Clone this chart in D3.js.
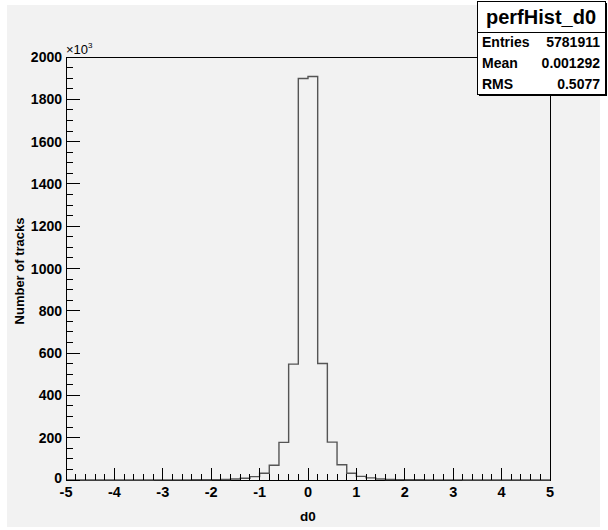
<!DOCTYPE html>
<html>
<head>
<meta charset="utf-8">
<script src="https://cdn.jsdelivr.net/npm/d3@7"></script>
<style>
  body { margin: 0; background: #ffffff; }
  text { font-family: "Liberation Sans", Arial, Helvetica, sans-serif; font-weight: bold; fill: #000; }
</style>
</head>
<body>
<div id="chart"></div>
<script>

// bin lower edges (width 0.2) and counts in units of 10^3
var binStart = [-5.0, -4.8, -4.6, -4.4, -4.2, -4.0, -3.8, -3.6, -3.4, -3.2,
                -3.0, -2.8, -2.6, -2.4, -2.2, -2.0, -1.8, -1.6, -1.4, -1.2,
                -1.0, -0.8, -0.6, -0.4, -0.2, 0.0, 0.2, 0.4, 0.6, 0.8,
                1.0, 1.2, 1.4, 1.6, 1.8, 2.0, 2.2, 2.4, 2.6, 2.8,
                3.0, 3.2, 3.4, 3.6, 3.8, 4.0, 4.2, 4.4, 4.6, 4.8];
var binCounts = [0, 0, 0, 0, 0, 0, 0, 0, 0.3, 0.4,
                 0.5, 0.6, 0.8, 1.0, 1.3, 1.7, 2.5, 4.7, 8, 15.8,
                 31.7, 69.5, 178, 548, 1898, 1908, 551, 179, 72, 31.7,
                 17, 10, 4.5, 2.5, 1.7, 1.3, 1.0, 0.8, 0.6, 0.5,
                 0.4, 0.3, 0, 0, 0, 0, 0, 0, 0, 0];
var binWidth = 0.2;

var xTicks = [-5, -4, -3, -2, -1, 0, 1, 2, 3, 4, 5];
var yTicks = [0, 200, 400, 600, 800, 1000, 1200, 1400, 1600, 1800, 2000];

var statsTitle = "perfHist_d0";
var statsLabels = ["Entries", "Mean", "RMS"];
var statsValues = ["5781911", "0.001292", "0.5077"];

var W = 608, H = 530;
var margin = { top: 57, right: 58, bottom: 50, left: 66 };
var width = W - margin.left - margin.right,
    height = H - margin.top - margin.bottom;

var svg = d3.select("#chart").append("svg")
    .attr("width", W)
    .attr("height", H);

// canvas pad
svg.append("rect")
    .attr("x", 7).attr("y", 5)
    .attr("width", 593).attr("height", 522)
    .attr("fill", "#f2f2f2");

var g = svg.append("g")
    .attr("transform", "translate(" + margin.left + "," + margin.top + ")");

var x = d3.scaleLinear().domain([-5, 5]).range([0, width]);
var y = d3.scaleLinear().domain([0, 2000]).range([height, 0]);

// frame
g.append("rect")
    .attr("width", width).attr("height", height)
    .attr("fill", "none")
    .attr("stroke", "#000")
    .attr("stroke-width", 1)
    .attr("shape-rendering", "crispEdges");

// histogram outline
var pts = [[x(-5), y(0)]];
binStart.forEach(function(b, i) {
    pts.push([x(b), y(binCounts[i])]);
    pts.push([x(b + binWidth), y(binCounts[i])]);
});
pts.push([x(5), y(0)]);

g.append("path")
    .attr("d", d3.line()(pts))
    .attr("fill", "none")
    .attr("stroke", "#555")
    .attr("stroke-width", 1.4);

// x ticks: primary every 1, secondary every 0.2
var xMinor = d3.range(-5, 5.0001, 0.2).map(function(d) { return Math.round(d * 10) / 10; });
g.selectAll(".xminor").data(xMinor).enter().append("line")
    .attr("class", "xminor")
    .attr("x1", function(d) { return x(d); }).attr("x2", function(d) { return x(d); })
    .attr("y1", height).attr("y2", height - 6)
    .attr("stroke", "#000").attr("shape-rendering", "crispEdges");
g.selectAll(".xmajor").data(xTicks).enter().append("line")
    .attr("class", "xmajor")
    .attr("x1", function(d) { return x(d); }).attr("x2", function(d) { return x(d); })
    .attr("y1", height).attr("y2", height - 12)
    .attr("stroke", "#000").attr("shape-rendering", "crispEdges");
g.selectAll(".xlab").data(xTicks).enter().append("text")
    .attr("class", "xlab")
    .attr("x", function(d) { return x(d); })
    .attr("y", height + 17)
    .attr("text-anchor", "middle")
    .style("font-size", "14.5px")
    .text(function(d) { return d; });

// y ticks: primary every 200, secondary every 50
var yMinor = d3.range(0, 2000.1, 50);
g.selectAll(".yminor").data(yMinor).enter().append("line")
    .attr("class", "yminor")
    .attr("x1", 0).attr("x2", 7)
    .attr("y1", function(d) { return y(d); }).attr("y2", function(d) { return y(d); })
    .attr("stroke", "#000").attr("shape-rendering", "crispEdges");
g.selectAll(".ymajor").data(yTicks).enter().append("line")
    .attr("class", "ymajor")
    .attr("x1", 0).attr("x2", 14)
    .attr("y1", function(d) { return y(d); }).attr("y2", function(d) { return y(d); })
    .attr("stroke", "#000").attr("shape-rendering", "crispEdges");
g.selectAll(".ylab").data(yTicks).enter().append("text")
    .attr("class", "ylab")
    .attr("x", -4)
    .attr("y", function(d) { return y(d) + (d === 0 ? 3 : 5); })
    .attr("text-anchor", "end")
    .style("font-size", "14px")
    .text(function(d) { return d; });

// exponent label
var ex = g.append("text").attr("x", 0).attr("y", -3).style("font-size", "13px").style("font-weight", "normal");
ex.append("tspan").text("\u00d710");
ex.append("tspan").attr("dy", -6).style("font-size", "8px").text("3");

// axis titles
g.append("text")
    .attr("x", x(0))
    .attr("y", height + 41)
    .attr("text-anchor", "middle")
    .style("font-size", "13.5px")
    .text("d0");
g.append("text")
    .attr("transform", "translate(" + (24 - margin.left) + "," + (271 - margin.top) + ") rotate(-90)")
    .attr("text-anchor", "middle")
    .style("font-size", "13px")
    .text("Number of tracks");

// stats box
var bx = 477, by = 1, bw = 128, bh = 93, th = 31;
svg.append("rect")
    .attr("x", bx + 2).attr("y", by + 2).attr("width", bw).attr("height", bh)
    .attr("fill", "#000");
svg.append("rect")
    .attr("x", bx).attr("y", by).attr("width", bw).attr("height", bh)
    .attr("fill", "#fff").attr("stroke", "#000").attr("shape-rendering", "crispEdges");
svg.append("line")
    .attr("x1", bx).attr("x2", bx + bw).attr("y1", by + th).attr("y2", by + th)
    .attr("stroke", "#000").attr("shape-rendering", "crispEdges");
svg.append("text")
    .attr("x", bx + bw / 2).attr("y", by + 23)
    .attr("text-anchor", "middle")
    .style("font-size", "20px")
    .text(statsTitle);
var rowH = (bh - th) / 3;
statsLabels.forEach(function(lab, i) {
    var ty = by + th + rowH * (i + 0.5) + 5;
    svg.append("text").attr("x", bx + 5).attr("y", ty).style("font-size", "14px").text(lab);
    svg.append("text").attr("x", bx + bw - 5).attr("y", ty).attr("text-anchor", "end")
        .style("font-size", "14px").text(statsValues[i]);
});

</script>
</body>
</html>
